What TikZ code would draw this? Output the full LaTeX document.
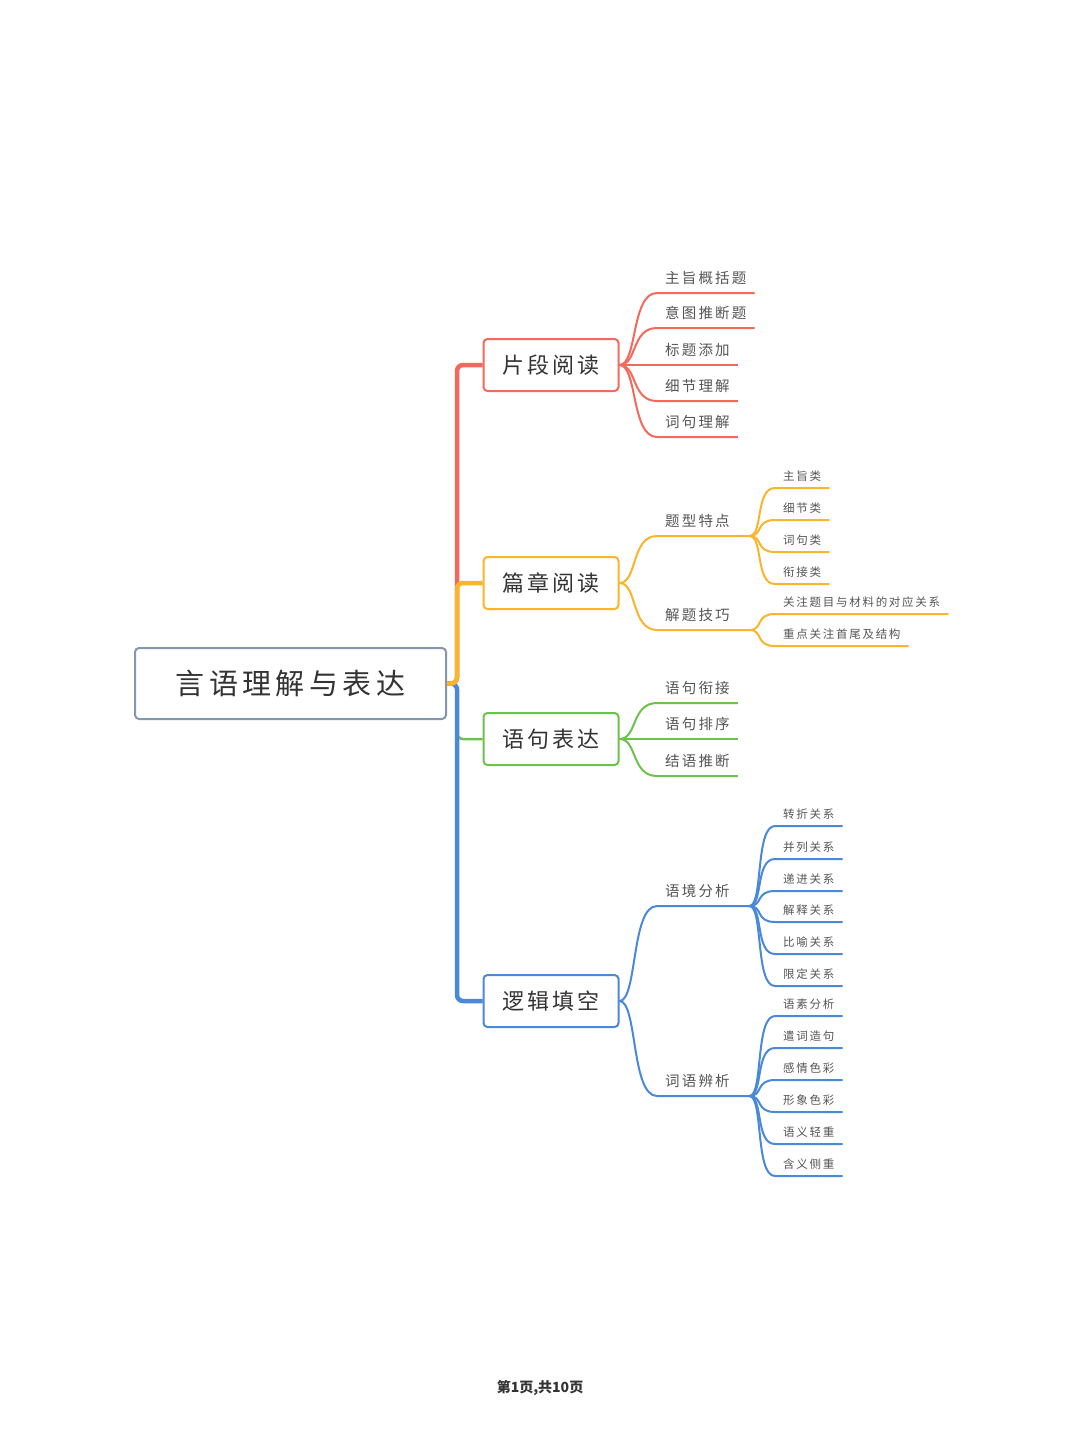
\documentclass[tikz,border=0pt]{standalone}
\usepackage{fontspec}
\setmainfont{Noto Sans CJK SC}
\newfontfamily\cjk[LetterSpace=15]{Noto Sans CJK SC}
\usepackage{tikz}

\definecolor{branchred}{HTML}{F4695C}
\definecolor{branchorange}{HTML}{FAB52A}
\definecolor{branchgreen}{HTML}{6DC24C}
\definecolor{branchblue}{HTML}{4A88DA}
\definecolor{rootgray}{HTML}{8596B0}
\definecolor{textdark}{HTML}{333333}
\definecolor{textgray}{HTML}{555555}

\tikzset{
    rootbox/.style={draw=rootgray, fill=white, line width=2pt, rounded corners=4pt,
        minimum width=311pt, minimum height=71pt, text=textdark,
        font=\cjk\fontsize{29}{29}\selectfont},
    topicbox/.style={draw=#1, fill=white, line width=2pt, rounded corners=4pt,
        minimum width=135pt, minimum height=52pt, text=textdark,
        font=\cjk\fontsize{22}{22}\selectfont},
    subtopic/.style={anchor=south west, inner xsep=8pt, inner ysep=8pt, text=textgray,
        font=\cjk\fontsize{14.5}{14.5}\selectfont},
    subhub/.style={subtopic, text width=76pt},
    leaf/.style={anchor=south west, inner xsep=8pt, inner ysep=6pt, text=textgray,
        font=\cjk\fontsize{11.5}{11.5}\selectfont},
    trunk/.style={draw=#1, line width=4.5pt, rounded corners=6pt},
    twig/.style={draw=#1, line width=2pt},
}

\begin{document}
\begin{tikzpicture}[x=1pt, y=-1pt]
    \useasboundingbox[fill=white] (0,0) rectangle (1080,1440);

    % root and main topics
    \node[rootbox] (root) at (290.5,683.5) {言语理解与表达};
    \node[topicbox=branchred] (p1) at (551,365) {片段阅读};
    \node[topicbox=branchorange] (p2) at (551,583) {篇章阅读};
    \node[topicbox=branchgreen] (p3) at (551,739) {语句表达};
    \node[topicbox=branchblue] (p4) at (551,1001) {逻辑填空};

    % trunk lines
    \draw[trunk=branchgreen, line width=2.5pt] (root.east) -- ++(10,0) |- (p3.west);
    \draw[trunk=branchblue] (root.east) -- ++(10,0) |- (p4.west);
    \draw[trunk=branchred] (root.east) -- ++(10,0) |- (p1.west);
    \draw[trunk=branchorange] (root.east) -- ++(10,0) |- (p2.west);

    % 片段阅读
    \node[subtopic] (c11) at (657,293) {主旨概括题};
    \node[subtopic] (c12) at (657,328) {意图推断题};
    \node[subtopic] (c13) at (657,365) {标题添加};
    \node[subtopic] (c14) at (657,401) {细节理解};
    \node[subtopic] (c15) at (657,437) {词句理解};
    \draw[twig=branchred] (p1.east) .. controls +(18,0) and +(-26,0) .. (c11.south west) -- (c11.south east);
    \draw[twig=branchred] (p1.east) .. controls +(18,0) and +(-26,0) .. (c12.south west) -- (c12.south east);
    \draw[twig=branchred] (p1.east) .. controls +(18,0) and +(-26,0) .. (c13.south west) -- (c13.south east);
    \draw[twig=branchred] (p1.east) .. controls +(18,0) and +(-26,0) .. (c14.south west) -- (c14.south east);
    \draw[twig=branchred] (p1.east) .. controls +(18,0) and +(-26,0) .. (c15.south west) -- (c15.south east);

    % 篇章阅读
    \node[subhub] (c21) at (657,536) {题型特点};
    \node[subhub] (c22) at (657,630) {解题技巧};
    \draw[twig=branchorange] (p2.east) .. controls +(18,0) and +(-26,0) .. (c21.south west) -- (c21.south east);
    \draw[twig=branchorange] (p2.east) .. controls +(18,0) and +(-26,0) .. (c22.south west) -- (c22.south east);
    \node[leaf] (c211) at (775,488) {主旨类};
    \node[leaf] (c212) at (775,520) {细节类};
    \node[leaf] (c213) at (775,552) {词句类};
    \node[leaf] (c214) at (775,584) {衔接类};
    \draw[twig=branchorange] (c21.south east) .. controls +(14,0) and +(-20,0) .. (c211.south west) -- (c211.south east);
    \draw[twig=branchorange] (c21.south east) .. controls +(14,0) and +(-20,0) .. (c212.south west) -- (c212.south east);
    \draw[twig=branchorange] (c21.south east) .. controls +(14,0) and +(-20,0) .. (c213.south west) -- (c213.south east);
    \draw[twig=branchorange] (c21.south east) .. controls +(14,0) and +(-20,0) .. (c214.south west) -- (c214.south east);
    \node[leaf] (c221) at (775,614) {关注题目与材料的对应关系};
    \node[leaf] (c222) at (775,646) {重点关注首尾及结构};
    \draw[twig=branchorange] (c22.south east) .. controls +(14,0) and +(-20,0) .. (c221.south west) -- (c221.south east);
    \draw[twig=branchorange] (c22.south east) .. controls +(14,0) and +(-20,0) .. (c222.south west) -- (c222.south east);

    % 语句表达
    \node[subtopic] (c31) at (657,703) {语句衔接};
    \node[subtopic] (c32) at (657,739) {语句排序};
    \node[subtopic] (c33) at (657,776) {结语推断};
    \draw[twig=branchgreen] (p3.east) .. controls +(18,0) and +(-26,0) .. (c31.south west) -- (c31.south east);
    \draw[twig=branchgreen] (p3.east) .. controls +(18,0) and +(-26,0) .. (c32.south west) -- (c32.south east);
    \draw[twig=branchgreen] (p3.east) .. controls +(18,0) and +(-26,0) .. (c33.south west) -- (c33.south east);

    % 逻辑填空
    \node[subhub] (c41) at (657,906) {语境分析};
    \node[subhub] (c42) at (657,1096) {词语辨析};
    \draw[twig=branchblue] (p4.east) .. controls +(18,0) and +(-26,0) .. (c41.south west) -- (c41.south east);
    \draw[twig=branchblue] (p4.east) .. controls +(18,0) and +(-26,0) .. (c42.south west) -- (c42.south east);
    \node[leaf] (c411) at (775,826) {转折关系};
    \node[leaf] (c412) at (775,859) {并列关系};
    \node[leaf] (c413) at (775,891) {递进关系};
    \node[leaf] (c414) at (775,922) {解释关系};
    \node[leaf] (c415) at (775,954) {比喻关系};
    \node[leaf] (c416) at (775,986) {限定关系};
    \draw[twig=branchblue] (c41.south east) .. controls +(14,0) and +(-20,0) .. (c411.south west) -- (c411.south east);
    \draw[twig=branchblue] (c41.south east) .. controls +(14,0) and +(-20,0) .. (c412.south west) -- (c412.south east);
    \draw[twig=branchblue] (c41.south east) .. controls +(14,0) and +(-20,0) .. (c413.south west) -- (c413.south east);
    \draw[twig=branchblue] (c41.south east) .. controls +(14,0) and +(-20,0) .. (c414.south west) -- (c414.south east);
    \draw[twig=branchblue] (c41.south east) .. controls +(14,0) and +(-20,0) .. (c415.south west) -- (c415.south east);
    \draw[twig=branchblue] (c41.south east) .. controls +(14,0) and +(-20,0) .. (c416.south west) -- (c416.south east);
    \node[leaf] (c421) at (775,1016) {语素分析};
    \node[leaf] (c422) at (775,1048) {遣词造句};
    \node[leaf] (c423) at (775,1080) {感情色彩};
    \node[leaf] (c424) at (775,1112) {形象色彩};
    \node[leaf] (c425) at (775,1144) {语义轻重};
    \node[leaf] (c426) at (775,1176) {含义侧重};
    \draw[twig=branchblue] (c42.south east) .. controls +(14,0) and +(-20,0) .. (c421.south west) -- (c421.south east);
    \draw[twig=branchblue] (c42.south east) .. controls +(14,0) and +(-20,0) .. (c422.south west) -- (c422.south east);
    \draw[twig=branchblue] (c42.south east) .. controls +(14,0) and +(-20,0) .. (c423.south west) -- (c423.south east);
    \draw[twig=branchblue] (c42.south east) .. controls +(14,0) and +(-20,0) .. (c424.south west) -- (c424.south east);
    \draw[twig=branchblue] (c42.south east) .. controls +(14,0) and +(-20,0) .. (c425.south west) -- (c425.south east);
    \draw[twig=branchblue] (c42.south east) .. controls +(14,0) and +(-20,0) .. (c426.south west) -- (c426.south east);

    % page footer
    \node[text=textdark, font=\fontsize{14}{14}\selectfont\bfseries] (footer) at (540,1388) {第1页,共10页};
\end{tikzpicture}
\end{document}
